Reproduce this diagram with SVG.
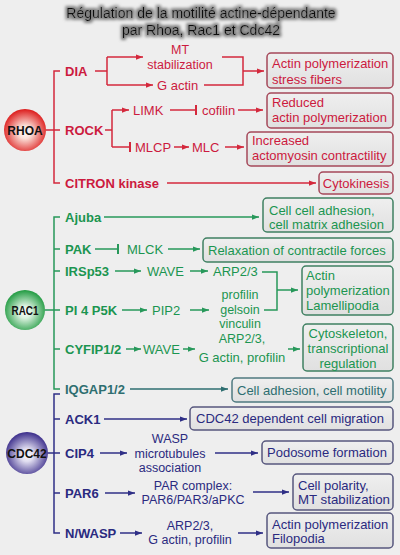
<svg xmlns="http://www.w3.org/2000/svg" width="400" height="555" viewBox="0 0 400 555">
<style>
.t{font-family:"Liberation Sans",Arial,Helvetica,sans-serif;font-size:13px}
.s{font-size:12.5px}
.b{font-weight:bold}
.m{text-anchor:middle}
.r{fill:#cc1a3e}.g{fill:#1b9550}.tl{fill:#2e6e70}.p{fill:#2a2a80}
.bx{fill:url(#boxg);stroke-width:1.5}
.br{stroke:#a5485a}.bg{stroke:#3f8062}.bt{stroke:#4f7a80}.bp{stroke:#57577e}
.lr{stroke:#d4283c;stroke-width:1.5;fill:none}
.lg{stroke:#27985a;stroke-width:1.5;fill:none}
.lt{stroke:#2e6e70;stroke-width:1.5;fill:none}
.lp{stroke:#2f2f86;stroke-width:1.5;fill:none}
.ar{marker-end:url(#aR)}.ag{marker-end:url(#aG)}.at{marker-end:url(#aT)}.ap{marker-end:url(#aP)}
.ir{marker-end:url(#iR)}.ig{marker-end:url(#iG)}
.c{font-family:"Liberation Sans",Arial,Helvetica,sans-serif;font-size:12px;font-weight:bold;fill:#111;text-anchor:middle}
</style>
<defs>
<linearGradient id="boxg" x1="0" y1="0" x2="0" y2="1"><stop offset="0" stop-color="#efefef"/><stop offset="1" stop-color="#e0e0e0"/></linearGradient>
<radialGradient id="gR" cx="50%" cy="55%" r="55%"><stop offset="0" stop-color="#ffffff"/><stop offset="0.28" stop-color="#fbe0d8"/><stop offset="1" stop-color="#dc1a1a"/></radialGradient>
<radialGradient id="gG" cx="50%" cy="55%" r="55%"><stop offset="0" stop-color="#ffffff"/><stop offset="0.28" stop-color="#dcf2e0"/><stop offset="1" stop-color="#1f9a40"/></radialGradient>
<radialGradient id="gP" cx="50%" cy="55%" r="55%"><stop offset="0" stop-color="#ffffff"/><stop offset="0.28" stop-color="#e0ddf0"/><stop offset="1" stop-color="#3a2c8a"/></radialGradient>
<filter id="halo" x="-10%" y="-40%" width="120%" height="180%">
<feMorphology in="SourceAlpha" operator="dilate" radius="1.5" result="d"/>
<feGaussianBlur in="d" stdDeviation="1.6" result="bl"/>
<feFlood flood-color="#808080"/>
<feComposite in2="bl" operator="in" result="s"/>
<feMerge><feMergeNode in="s"/><feMergeNode in="SourceGraphic"/></feMerge>
</filter>
<marker id="aR" viewBox="0 0 8 6" refX="8" refY="3" markerWidth="7" markerHeight="6" markerUnits="userSpaceOnUse" orient="auto"><path d="M0,0L8,3L0,6z" fill="#d4283c"/></marker>
<marker id="aG" viewBox="0 0 8 6" refX="8" refY="3" markerWidth="7" markerHeight="6" markerUnits="userSpaceOnUse" orient="auto"><path d="M0,0L8,3L0,6z" fill="#27985a"/></marker>
<marker id="aT" viewBox="0 0 8 6" refX="8" refY="3" markerWidth="7" markerHeight="6" markerUnits="userSpaceOnUse" orient="auto"><path d="M0,0L8,3L0,6z" fill="#2e6e70"/></marker>
<marker id="aP" viewBox="0 0 8 6" refX="8" refY="3" markerWidth="7" markerHeight="6" markerUnits="userSpaceOnUse" orient="auto"><path d="M0,0L8,3L0,6z" fill="#2f2f86"/></marker>
<marker id="iR" viewBox="0 0 2 10" refX="1" refY="5" markerWidth="2" markerHeight="10" markerUnits="userSpaceOnUse" orient="auto"><rect width="2" height="10" fill="#d4283c"/></marker>
<marker id="iG" viewBox="0 0 2 10" refX="1" refY="5" markerWidth="2" markerHeight="10" markerUnits="userSpaceOnUse" orient="auto"><rect width="2" height="10" fill="#27985a"/></marker>
</defs>
<rect width="400" height="555" fill="#eeeeee"/>
<g id="title" filter="url(#halo)">
<text class="t" x="201" y="17.5" style="font-size:14px;text-anchor:middle;fill:#111">Régulation de la motilité actine-dépendante</text>
<text class="t" x="201" y="35" style="font-size:14px;text-anchor:middle;fill:#111">par Rhoa, Rac1 et Cdc42</text>
</g>
<g id="connectors">
<path class="lr" d="M60,71H54V183H60M54,130H60M46,130H60"/>
<path class="lr" d="M95,71H107M107,57V85"/>
<path class="lr ar" d="M107,57H143"/>
<path class="lr ar" d="M107,85H153"/>
<path class="lr" d="M222,57H243V85H204"/>
<path class="lr ar" d="M243,71H264"/>
<path class="lr" d="M105,130H112M112,110V147"/>
<path class="lr ar" d="M112,110H129"/>
<path class="lr ir" d="M170,110H196"/>
<path class="lr ar" d="M238,110H263"/>
<path class="lr ir" d="M112,147H130"/>
<path class="lr ar" d="M174,147H189"/>
<path class="lr ar" d="M225,147H244"/>
<path class="lr ar" d="M167,183H316"/>
<path class="lg" d="M60,217H54V389H60M54,249H60M54,271H60M54,349H60M45,310H60"/>
<path class="lg ag" d="M104,217H259"/>
<path class="lg ig" d="M95,249H118"/>
<path class="lg ag" d="M168,249H200"/>
<path class="lg ag" d="M115,271H141"/>
<path class="lg ag" d="M190,271H208"/>
<path class="lg" d="M262,272H277V310H264"/>
<path class="lg ag" d="M277,290H298"/>
<path class="lg ag" d="M122,310H147"/>
<path class="lg ag" d="M190,310H209"/>
<path class="lg ag" d="M126,349H141"/>
<path class="lg ag" d="M183,349H195"/>
<path class="lg ag" d="M288,349H300"/>
<path class="lt at" d="M130,389H228"/>
<path class="lp" d="M60,394H54V533H60M54,419H60M54,493H60M47,453H60"/>
<path class="lp ap" d="M104,419H187"/>
<path class="lp ap" d="M100,453H127"/>
<path class="lp ap" d="M215,453H258"/>
<path class="lp ap" d="M105,493H135"/>
<path class="lp ap" d="M253,492H289"/>
<path class="lp ap" d="M120,533H142"/>
<path class="lp ap" d="M238,533H263"/>
</g>
<g id="RHOA"><circle cx="25" cy="130" r="21" fill="url(#gR)"/><text class="c" x="25" y="134.5">RHOA</text></g>
<g id="RAC1"><circle cx="25" cy="310" r="20" fill="url(#gG)"/><text class="c" x="25" y="314.5" textLength="27" lengthAdjust="spacingAndGlyphs">RAC1</text></g>
<g id="CDC42"><circle cx="27" cy="453" r="21" fill="url(#gP)"/><text class="c" x="27" y="457.5">CDC42</text></g>
<g id="DIA"><text class="t b r" x="65" y="75.5">DIA</text></g>
<g id="MTstab"><text class="t s r m" x="180" y="54">MT</text><text class="t s r m" x="180" y="68.5">stabilization</text></g>
<g id="Gactin1"><text class="t r" x="157" y="89.5">G actin</text></g>
<g id="box-stress"><rect class="bx br" x="267" y="53" width="126" height="35" rx="4"/><text class="t r" x="272" y="67.5">Actin polymerization</text><text class="t r" x="272" y="83.5">stress fibers</text></g>
<g id="ROCK"><text class="t b r" x="65" y="134.5">ROCK</text></g>
<g id="LIMK"><text class="t r" x="133" y="114.5">LIMK</text></g>
<g id="cofilin"><text class="t r" x="202" y="114.5">cofilin</text></g>
<g id="box-reduced"><rect class="bx br" x="267" y="93" width="126" height="35" rx="4"/><text class="t r" x="272" y="106.5">Reduced</text><text class="t r" x="272" y="121.5">actin polymerization</text></g>
<g id="MLCP"><text class="t r" x="135" y="151.5">MLCP</text></g>
<g id="MLC"><text class="t r" x="192" y="151.5">MLC</text></g>
<g id="box-contract"><rect class="bx br" x="247" y="132" width="146" height="34" rx="4"/><text class="t r" x="252" y="144.5">Increased</text><text class="t r" x="252" y="159.5">actomyosin contractility</text></g>
<g id="CITRON"><text class="t b r" x="65" y="187.5">CITRON kinase</text></g>
<g id="box-cyto"><rect class="bx br" x="319" y="172" width="74" height="22" rx="4"/><text class="t r m" x="356" y="187.5">Cytokinesis</text></g>
<g id="Ajuba"><text class="t b g" x="65" y="221.5">Ajuba</text></g>
<g id="box-adh"><rect class="bx bg" x="263" y="198" width="130" height="34" rx="4"/><text class="t g" x="269" y="214.5">Cell cell adhesion,</text><text class="t g" x="269" y="228.5">cell matrix adhesion</text></g>
<g id="PAK"><text class="t b g" x="65" y="253.5">PAK</text></g>
<g id="MLCK"><text class="t g" x="127" y="253.5">MLCK</text></g>
<g id="box-relax"><rect class="bx bg" x="203" y="238" width="190" height="24" rx="4"/><text class="t g" x="208" y="254.5">Relaxation of contractile forces</text></g>
<g id="IRSp53"><text class="t b g" x="65" y="275.5">IRSp53</text></g>
<g id="WAVE1"><text class="t g" x="147" y="275.5">WAVE</text></g>
<g id="ARP1"><text class="t g" x="213" y="275.5">ARP2/3</text></g>
<g id="box-lamel"><rect class="bx bg" x="302" y="266" width="91" height="49" rx="4"/><text class="t g" x="306" y="279.5">Actin</text><text class="t g" x="306" y="294.5">polymerization</text><text class="t g" x="306" y="309.5">Lamellipodia</text></g>
<g id="PI4P5K"><text class="t b g" x="65" y="314.5">PI 4 P5K</text></g>
<g id="PIP2"><text class="t g" x="152" y="314.5">PIP2</text></g>
<g id="profilin"><text class="t s g m" x="240" y="299">profilin</text><text class="t s g m" x="240" y="313.5">gelsoin</text><text class="t s g m" x="240" y="327.5">vinculin</text></g>
<g id="CYFIP"><text class="t b g" x="65" y="353.5">CYFIP1/2</text></g>
<g id="WAVE2"><text class="t g" x="143" y="353.5">WAVE</text></g>
<g id="ARP2"><text class="t s g m" x="242" y="343">ARP2/3,</text><text class="t g m" x="242" y="361.5">G actin, profilin</text></g>
<g id="box-cytosk"><rect class="bx bg" x="303" y="324" width="90" height="47" rx="4"/><text class="t g m" x="348" y="337.5">Cytoskeleton,</text><text class="t g m" x="348" y="353">transcriptional</text><text class="t g m" x="348" y="367.5">regulation</text></g>
<g id="IQGAP"><text class="t b tl" x="65" y="393.5">IQGAP1/2</text></g>
<g id="box-motil"><rect class="bx bt" x="232" y="378" width="161" height="24" rx="4"/><text class="t tl" x="237" y="394.5">Cell adhesion, cell motility</text></g>
<g id="ACK1"><text class="t b p" x="65" y="423.5">ACK1</text></g>
<g id="box-migr"><rect class="bx bp" x="190" y="407" width="203" height="23" rx="4"/><text class="t p" x="196" y="423">CDC42 dependent cell migration</text></g>
<g id="CIP4"><text class="t b p" x="65" y="457.5">CIP4</text></g>
<g id="WASP"><text class="t s p m" x="170" y="443">WASP</text><text class="t s p m" x="170" y="457.5">microtubules</text><text class="t s p m" x="170" y="472">association</text></g>
<g id="box-podo"><rect class="bx bp" x="262" y="441" width="131" height="23" rx="4"/><text class="t p" x="267" y="457">Podosome formation</text></g>
<g id="PAR6"><text class="t b p" x="65" y="497.5">PAR6</text></g>
<g id="PARc"><text class="t s p m" x="193" y="489.5">PAR complex:</text><text class="t s p m" x="193" y="504">PAR6/PAR3/aPKC</text></g>
<g id="box-polar"><rect class="bx bp" x="293" y="474" width="100" height="36" rx="4"/><text class="t p" x="298" y="489.5">Cell polarity,</text><text class="t p" x="298" y="504" textLength="92" lengthAdjust="spacingAndGlyphs">MT stabilization</text></g>
<g id="NWASP"><text class="t b p" x="65" y="537.5">N/WASP</text></g>
<g id="ARP3"><text class="t s p m" x="190" y="529.5">ARP2/3,</text><text class="t s p m" x="190" y="544">G actin, profilin</text></g>
<g id="box-filo"><rect class="bx bp" x="267" y="513" width="126" height="35" rx="4"/><text class="t p" x="272" y="528.5">Actin polymerization</text><text class="t p" x="272" y="542.5">Filopodia</text></g>
</svg>
